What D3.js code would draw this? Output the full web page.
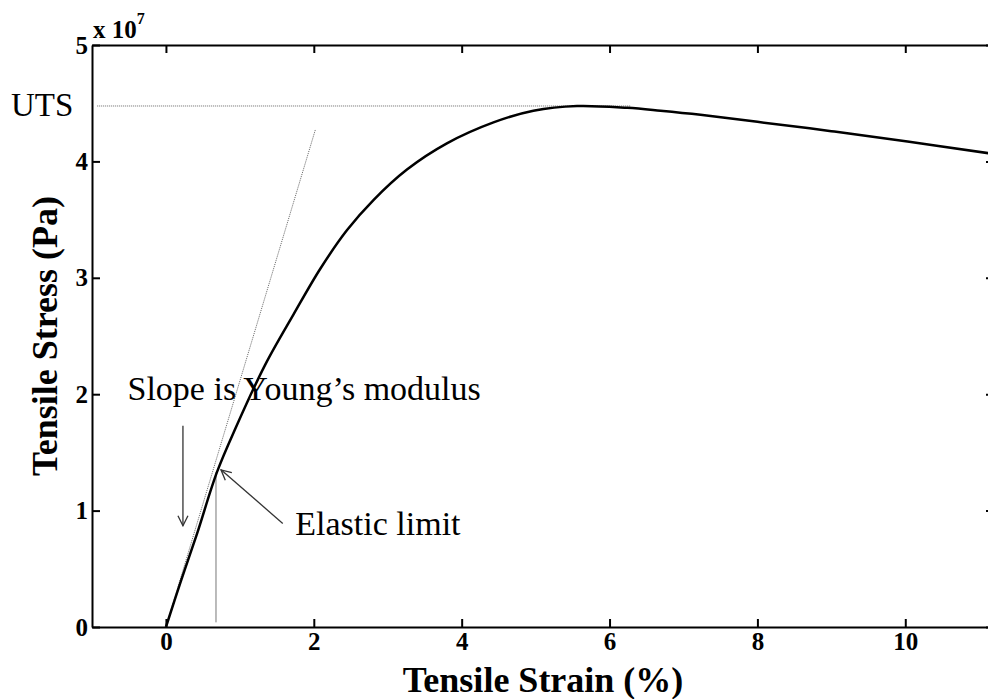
<!DOCTYPE html>
<html>
<head>
<meta charset="utf-8">
<script src="https://cdn.jsdelivr.net/npm/d3@7"></script>
<style>
  body { margin: 0; background: #fff; }
  text { font-family: "Liberation Serif", "Times New Roman", serif; fill: #000; }
</style>
</head>
<body>
<div id="chart"></div>
<script>
// stress-strain curve, strain in %, stress in 1e7 Pa
const strain = [0, 0.2, 0.42, 0.69, 0.95, 1.34, 1.73, 2.09, 2.45, 2.81, 3.26, 3.80, 4.43, 4.97, 5.56, 6.24, 6.69, 7.23, 8.0, 9.0, 10.03, 11.13, 11.25];
const stress = [0, 0.39, 0.80, 1.33, 1.72, 2.25, 2.69, 3.08, 3.41, 3.67, 3.93, 4.155, 4.335, 4.435, 4.476, 4.46, 4.435, 4.40, 4.34, 4.26, 4.17, 4.07, 4.06];

const xTicks = [0, 2, 4, 6, 8, 10];
const yTicks = [0, 1, 2, 3, 4, 5];

const utsValue = 4.476;
const utsRange = [-0.93, 6.28];
const youngLine = [[0, 0], [2.02, 4.27]];
const elasticLimit = [0.677, 1.33];
const elasticLineBottom = 0.04;

const config = {
    containerWidth: 988,
    containerHeight: 699,
    margin: {top: 45, left: 92},
    width: 902,
    height: 582,
    tickSize: 8
};

const svg = d3.select('#chart').append('svg')
    .attr('width', config.containerWidth)
    .attr('height', config.containerHeight);

const defs = svg.append('defs');
defs.append('marker')
    .attr('id', 'arrow')
    .attr('viewBox', '0 0 12 12')
    .attr('refX', 11).attr('refY', 6)
    .attr('markerWidth', 12).attr('markerHeight', 12)
    .attr('markerUnits', 'userSpaceOnUse')
    .attr('orient', 'auto')
  .append('path')
    .attr('d', 'M1,1 L11,6 L1,11')
    .attr('fill', 'none')
    .attr('stroke', '#333')
    .attr('stroke-width', 1.3);

const chart = svg.append('g')
    .attr('transform', `translate(${config.margin.left},${config.margin.top})`);

const x = d3.scaleLinear().domain([-1, 11.2]).range([0, config.width]);
const y = d3.scaleLinear().domain([0, 5]).range([config.height, 0]);

// axes (box with inward ticks like matlab)
const axisStyle = g => {
    g.select('.domain').attr('stroke', '#000').attr('stroke-width', 2);
    g.selectAll('.tick line').attr('stroke', '#000').attr('stroke-width', 2);
    g.selectAll('.tick text')
        .attr('font-size', 25)
        .attr('font-weight', 'bold')
        .attr('font-family', '"Liberation Serif", serif');
};

chart.append('g')
    .attr('transform', `translate(0,${config.height})`)
    .call(d3.axisBottom(x).tickValues(xTicks).tickSizeInner(-config.tickSize).tickSizeOuter(0).tickPadding(5).tickFormat(d3.format('d')))
    .call(axisStyle);

chart.append('g')
    .call(d3.axisTop(x).tickValues(xTicks).tickSizeInner(-config.tickSize).tickSizeOuter(0).tickFormat(''))
    .call(axisStyle);

chart.append('g')
    .call(d3.axisLeft(y).tickValues(yTicks).tickSizeInner(-config.tickSize).tickSizeOuter(0).tickPadding(4).tickFormat(d3.format('d')))
    .call(axisStyle);

chart.append('g')
    .attr('transform', `translate(${config.width},0)`)
    .call(d3.axisRight(y).tickValues(yTicks).tickSizeInner(-config.tickSize).tickSizeOuter(0).tickFormat(''))
    .call(axisStyle);

// exponent label
const expo = chart.append('text')
    .attr('x', 1)
    .attr('y', -7)
    .attr('font-size', 25)
    .attr('font-weight', 'bold');
expo.append('tspan').text('x 10');
expo.append('tspan').attr('dy', -14).attr('font-size', 16).text('7');

// axis titles
svg.append('text')
    .attr('x', config.margin.left + config.width / 2)
    .attr('y', 692)
    .attr('text-anchor', 'middle')
    .attr('font-size', 36)
    .attr('font-weight', 'bold')
    .text('Tensile Strain (%)');

svg.append('text')
    .attr('transform', `translate(57,${config.margin.top + config.height / 2}) rotate(-90)`)
    .attr('text-anchor', 'middle')
    .attr('font-size', 36)
    .attr('font-weight', 'bold')
    .text('Tensile Stress (Pa)');

// UTS reference line
chart.append('line')
    .attr('x1', x(utsRange[0])).attr('x2', x(utsRange[1]))
    .attr('y1', y(utsValue)).attr('y2', y(utsValue))
    .attr('stroke', '#666')
    .attr('stroke-width', 1)
    .attr('stroke-dasharray', '1,1');

// Young's modulus tangent
chart.append('line')
    .attr('x1', x(youngLine[0][0])).attr('y1', y(youngLine[0][1]))
    .attr('x2', x(youngLine[1][0])).attr('y2', y(youngLine[1][1]))
    .attr('stroke', '#666')
    .attr('stroke-width', 1)
    .attr('stroke-dasharray', '1,1');

// elastic limit vertical
chart.append('line')
    .attr('x1', x(elasticLimit[0])).attr('x2', x(elasticLimit[0]))
    .attr('y1', y(elasticLineBottom)).attr('y2', y(elasticLimit[1]))
    .attr('stroke', '#777')
    .attr('stroke-width', 1);

// curve
const curveData = strain.map((d, i) => [d, stress[i]]);
chart.append('path')
    .datum(curveData)
    .attr('fill', 'none')
    .attr('stroke', '#000')
    .attr('stroke-width', 2.5)
    .attr('d', d3.line().x(d => x(d[0])).y(d => y(d[1])).curve(d3.curveCatmullRom.alpha(0.5)));

// annotations
chart.append('line')
    .attr('x1', x(0.23)).attr('y1', y(1.73))
    .attr('x2', x(0.23)).attr('y2', y(0.87))
    .attr('stroke', '#333').attr('stroke-width', 1.3)
    .attr('marker-end', 'url(#arrow)');

chart.append('line')
    .attr('x1', x(1.58)).attr('y1', y(0.89))
    .attr('x2', x(0.745)).attr('y2', y(1.35))
    .attr('stroke', '#333').attr('stroke-width', 1.3)
    .attr('marker-end', 'url(#arrow)');

chart.append('text')
    .attr('x', x(-0.52)).attr('y', y(1.95))
    .attr('font-size', 34)
    .text('Slope is Young\u2019s modulus');

chart.append('text')
    .attr('x', x(1.75)).attr('y', y(0.79))
    .attr('font-size', 34)
    .text('Elastic limit');

svg.append('text')
    .attr('x', 11)
    .attr('y', config.margin.top + y(utsValue) + 10)
    .attr('font-size', 33)
    .text('UTS');
</script>
</body>
</html>
